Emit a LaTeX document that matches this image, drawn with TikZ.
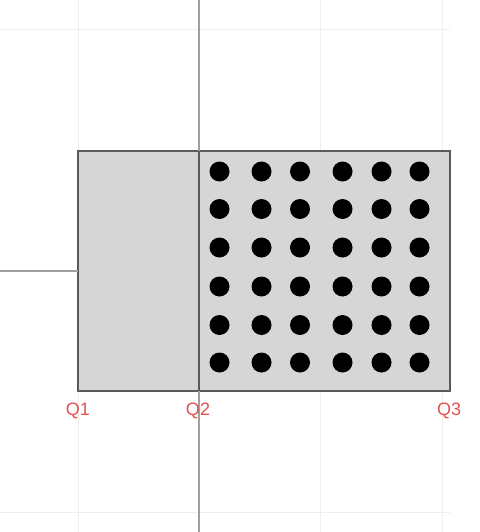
\documentclass[tikz,border=0pt]{standalone}
\usepackage{fontspec}
\setmainfont{Liberation Sans}
\definecolor{gridc}{HTML}{EEEEEE}
\definecolor{axisc}{HTML}{A0A0A0}
\definecolor{boxfill}{HTML}{D6D6D6}
\definecolor{boxline}{HTML}{5A5A5A}
\definecolor{labred}{HTML}{E45050}
\begin{document}
\begin{tikzpicture}[x=1pt,y=-1pt,
  gridline/.style={draw=gridc,line width=1pt},
  axisline/.style={draw=axisc,line width=1.8pt},
  boxpart/.style={draw=boxline,fill=boxfill,line width=1.8pt,inner sep=0pt,outer sep=0pt},
  dotnode/.style={circle,fill=black,inner sep=0pt,minimum size=20pt},
  qlabel/.style={text=labred,font=\fontsize{18}{18}\selectfont,inner sep=0pt}]
\useasboundingbox (0,0) rectangle (479,532);
% faint grid
\foreach \gx in {78,320,442} \draw[gridline] (\gx,0) -- (\gx,532);
\foreach \gy in {30,512} \draw[gridline] (0,\gy) -- (450,\gy);
% left whisker
\coordinate (wl) at (0,271);
% boxes
\node[boxpart,minimum width=121pt,minimum height=240pt,anchor=north west] (lbox) at (78,151) {};
\node[boxpart,minimum width=251pt,minimum height=240pt,anchor=north west] (rbox) at (199,151) {};
\draw[axisline] (wl) -- (lbox.west);
% median axis
\coordinate (mtop) at (199,0);
\coordinate (mbot) at (199,532);
\draw[axisline] (mtop) -- (rbox.north west);
\draw[draw=boxline,line width=1.8pt] (rbox.north west) -- (rbox.south west);
\draw[axisline] (rbox.south west) -- (mbot);
% dots
\foreach \cx [count=\i] in {219.5,261.5,300,342.5,381.5,419.5}
  \foreach \cy [count=\j] in {171.5,209,247.5,286.5,325,362.5}
    \node[dotnode] (d\i\j) at (\cx,\cy) {};
% labels
\node[qlabel] (q1) at (78,411) {Q1};
\node[qlabel] (q2) at (198,411) {Q2};
\node[qlabel] (q3) at (449,411) {Q3};
\end{tikzpicture}
\end{document}
